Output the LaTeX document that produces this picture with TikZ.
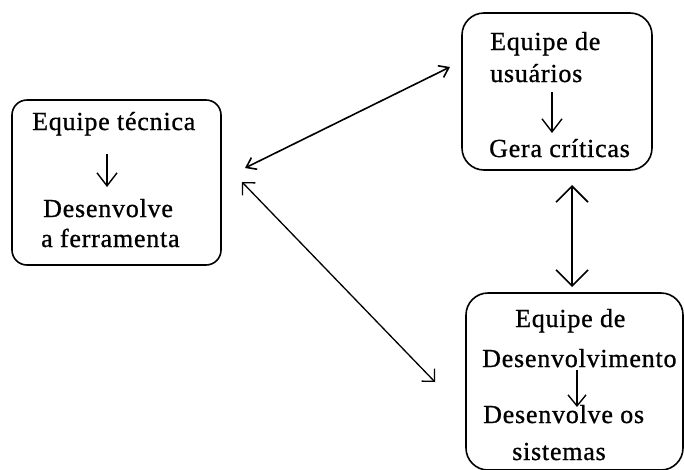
\documentclass[tikz,border=0pt]{standalone}
\usepackage{fontspec}
\setmainfont{Liberation Serif}[LetterSpace=3,
  BoldFont={Liberation Serif}, BoldFeatures={FakeBold=0.9}]
\usetikzlibrary{arrows.meta}
\begin{document}
\begin{tikzpicture}[x=1pt,y=-1pt,
  panel/.style={draw, line width=1.6pt, rounded corners=#1},
  label/.style={anchor=base west, inner sep=0pt, font=\fontsize{26}{30}\selectfont\bfseries},
  flow/.style={line width=1.4pt, -{Straight Barb[length=13pt,width=20pt]}},
  link/.style={line width=1.6pt, {Straight Barb[length=9pt,width=13pt]}-{Straight Barb[length=9pt,width=13pt]}}]
\useasboundingbox (0,0) rectangle (684,469);

% boxes
\draw[panel=15pt] (12,100) rectangle (221,265);
\draw[panel=22pt] (462,13) rectangle (652,170);
\draw[panel=22pt] (466,293) rectangle (683,470);

% technical team
\node[label] (t1) at (32,130) {Equipe técnica};
\coordinate (a1s) at (107,154);
\coordinate (a1e) at (107,187);
\draw[flow] (a1s) -- (a1e);
\node[label] (t2) at (43,217) {Desenvolve};
\node[label] (t3) at (41,247) {a ferramenta};

% user team
\node[label] (u1) at (490,50) {Equipe de};
\node[label] (u2) at (490,82) {usuários};
\coordinate (a2s) at (552,92);
\coordinate (a2e) at (552,133);
\draw[flow] (a2s) -- (a2e);
\node[label] (u3) at (489,157) {Gera críticas};

% development team
\node[label] (d1) at (515,327) {Equipe de};
\node[label] (d2) at (482,367) {Desenvolvimento};
\coordinate (a3s) at (577,370);
\coordinate (a3e) at (577,407);
\draw[flow, -{Straight Barb[length=11pt,width=18pt]}] (a3s) -- (a3e);
\node[label] (d3) at (483,423) {Desenvolve os};
\node[label] (d4) at (512,460) {sistemas};

% connections between teams
\coordinate (l1a) at (245,168);
\coordinate (l1b) at (450,67);
\draw[link] (l1a) -- (l1b);
\coordinate (l2a) at (242,182);
\coordinate (l2b) at (435,382);
\draw[line width=1.3pt, {Straight Barb[length=9pt,width=18pt]}-{Straight Barb[length=9pt,width=18pt]}] (l2a) -- (l2b);
\coordinate (l3a) at (572,185);
\coordinate (l3b) at (572,287);
\draw[line width=1.6pt, {Straight Barb[length=16pt,width=32pt]}-{Straight Barb[length=16pt,width=32pt]}] (l3a) -- (l3b);
\end{tikzpicture}
\end{document}
